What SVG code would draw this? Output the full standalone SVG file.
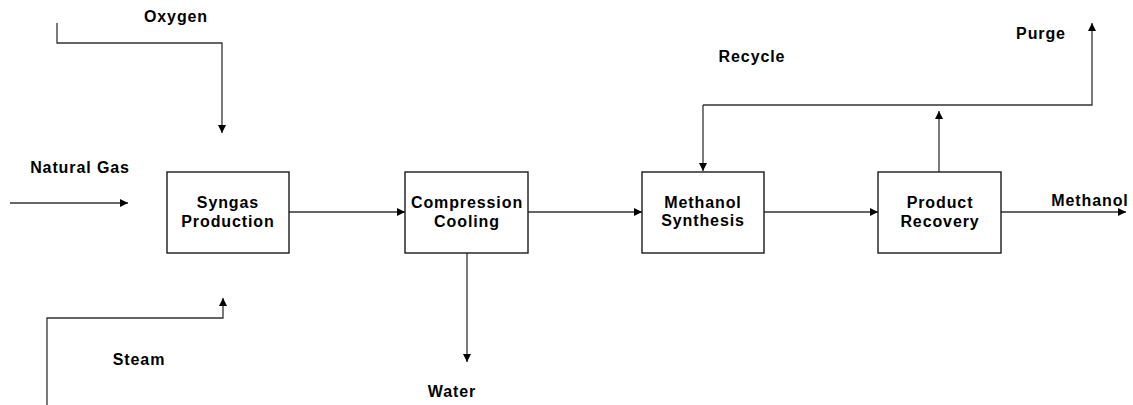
<svg xmlns="http://www.w3.org/2000/svg" width="1133" height="405" viewBox="0 0 1133 405">
  <style>
    .box { fill: #ffffff; stroke: #1a1a1a; stroke-width: 1.4; }
    .line { fill: none; stroke: #333333; stroke-width: 1.3; }
    .lbl { font-family: "Liberation Sans", Arial, sans-serif; font-weight: bold; font-size: 16px; letter-spacing: 0.9px; fill: #000000; text-anchor: middle; }
  </style>
  <defs>
    <marker id="arr" viewBox="0 0 10 10" refX="10" refY="5" markerWidth="9" markerHeight="8" markerUnits="userSpaceOnUse" orient="auto">
      <path d="M0,0 L10,5 L0,10 Z" fill="#000000"/>
    </marker>
  </defs>
  <rect width="1133" height="405" fill="#ffffff"/>

  <g id="connectors">
    <polyline class="line" points="57,23 57,43 222,43 222,133" marker-end="url(#arr)"/>
    <line class="line" x1="10" y1="203" x2="128" y2="203" marker-end="url(#arr)"/>
    <polyline class="line" points="47,405 47,318 223,318 223,298" marker-end="url(#arr)"/>
    <line class="line" x1="289" y1="212" x2="405" y2="212" marker-end="url(#arr)"/>
    <line class="line" x1="528" y1="212" x2="642" y2="212" marker-end="url(#arr)"/>
    <line class="line" x1="467" y1="253" x2="467" y2="362" marker-end="url(#arr)"/>
    <line class="line" x1="764" y1="212" x2="878" y2="212" marker-end="url(#arr)"/>
    <line class="line" x1="1001" y1="212" x2="1126" y2="212" marker-end="url(#arr)"/>
    <line class="line" x1="939" y1="172" x2="939" y2="111" marker-end="url(#arr)"/>
    <polyline class="line" points="703,105 1092,105 1092,23" marker-end="url(#arr)"/>
    <line class="line" x1="703" y1="105" x2="703" y2="171" marker-end="url(#arr)"/>
  </g>

  <g id="labels">
    <text class="lbl" x="176" y="22">Oxygen</text>
    <text class="lbl" x="80" y="173">Natural Gas</text>
    <text class="lbl" x="139" y="365">Steam</text>
    <text class="lbl" x="452" y="397">Water</text>
    <text class="lbl" x="752" y="62">Recycle</text>
    <text class="lbl" x="1041" y="39">Purge</text>
    <text class="lbl" x="1090" y="206">Methanol</text>
  </g>

  <g id="syngas">
    <rect class="box" x="167" y="172" width="122" height="81"/>
    <text class="lbl" x="228" y="208">Syngas</text>
    <text class="lbl" x="228" y="227">Production</text>
  </g>
  <g id="compression">
    <rect class="box" x="405" y="172" width="123" height="81"/>
    <text class="lbl" x="467" y="208">Compression</text>
    <text class="lbl" x="467" y="227">Cooling</text>
  </g>
  <g id="synthesis">
    <rect class="box" x="642" y="172" width="122" height="81"/>
    <text class="lbl" x="703" y="208">Methanol</text>
    <text class="lbl" x="703" y="226">Synthesis</text>
  </g>
  <g id="recovery">
    <rect class="box" x="878" y="172" width="123" height="81"/>
    <text class="lbl" x="940" y="208">Product</text>
    <text class="lbl" x="940" y="227">Recovery</text>
  </g>
</svg>
